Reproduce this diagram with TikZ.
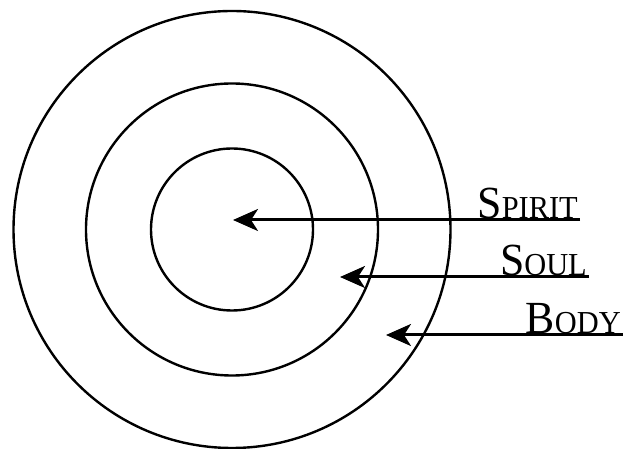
\documentclass[tikz,border=0pt]{standalone}
\usepackage{fontspec}
\setmainfont{Liberation Serif}
\usetikzlibrary{arrows.meta}
\newcommand{\bigsc}[2]{\scalebox{0.95}[1]{{\fontsize{46}{46}\selectfont #1}{\fontsize{32}{32}\selectfont #2}}}
\begin{document}
\begin{tikzpicture}[x=1pt,y=1pt,
  ring/.style={draw=black,line width=2.4pt},
  lbl/.style={anchor=south east,inner xsep=2pt,inner ysep=1pt},
  arr/.style={line width=3pt,-{Stealth[length=25pt,width=22pt,inset=7pt]}}]
\useasboundingbox (0,0) rectangle (623,449);
\fill[white] (0,0) rectangle (623,449);
\coordinate (c) at (232,219.5);
\draw[ring] (c) circle[radius=218.5];
\draw[ring] (c) circle[radius=146];
\draw[ring] (c) circle[radius=81];
\node[lbl] (spirit) at (580,229) {\bigsc{S}{PIRIT}};
\node[lbl] (soul) at (589,172) {\bigsc{S}{OUL}};
\node[lbl] (body) at (623,114) {\bigsc{B}{ODY}};
\coordinate (tspirit) at (233,229);
\coordinate (tsoul) at (340,172);
\coordinate (tbody) at (386,114);
\draw[arr] (spirit.south east) -- (tspirit);
\draw[arr] (soul.south east) -- (tsoul);
\draw[arr] (body.south east) -- (tbody);
\end{tikzpicture}
\end{document}
